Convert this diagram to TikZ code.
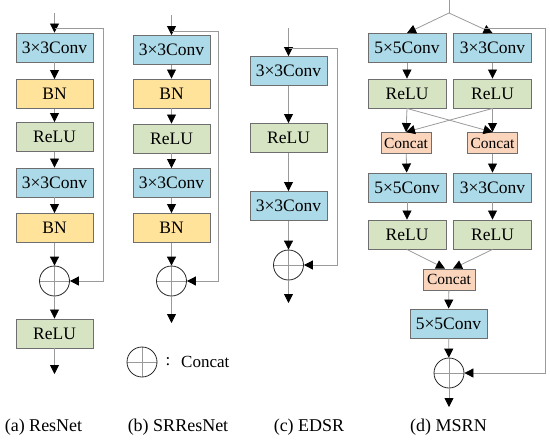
\documentclass[tikz,border=0pt]{standalone}
\usepackage{fontspec}
\setmainfont{Liberation Serif}
\usetikzlibrary{arrows.meta}
\definecolor{convc}{HTML}{ADDAE8}
\definecolor{bnc}{HTML}{FFE39B}
\definecolor{reluc}{HTML}{D7E4C3}
\definecolor{catc}{HTML}{FAD4BB}
\definecolor{edgec}{HTML}{6E6E6E}
\definecolor{linec}{HTML}{9A9A9A}
\tikzset{
  blk/.style={draw=edgec, line width=0.9pt, minimum width=77pt, minimum height=29pt, inner sep=0pt, font=\fontsize{17.5}{18}\selectfont},
  conv/.style={blk, fill=convc},
  bn/.style={blk, fill=bnc},
  relu/.style={blk, fill=reluc},
  cat/.style={draw=edgec, line width=0.9pt, fill=catc, minimum width=50pt, minimum height=21pt, inner sep=0pt, font=\fontsize{15.5}{16}\selectfont},
  sumc/.style={circle, draw=black!85, line width=0.8pt, minimum size=30pt, inner sep=0pt,
    path picture={\draw[linec,line width=0.7pt] (path picture bounding box.north) -- (path picture bounding box.south) (path picture bounding box.west) -- (path picture bounding box.east);}},
  arr/.style={draw=linec, line width=0.8pt, -{Triangle[width=9pt,length=9pt,color=black,fill=black]}},
  ln/.style={draw=linec, line width=0.8pt},
  captxt/.style={font=\fontsize{18}{18}\selectfont, inner sep=0pt}
}
\begin{document}
\begin{tikzpicture}[x=1pt,y=-1pt]
\useasboundingbox (0,0) rectangle (550,440);
% (a) ResNet
\node[conv] (a1) at (54.5,47.5) {3×3Conv};
\node[bn]   (a2) at (54.5,94) {BN};
\node[relu] (a3) at (54.5,137) {ReLU};
\node[conv] (a4) at (54.5,182.5) {3×3Conv};
\node[bn]   (a5) at (54.5,228) {BN};
\node[sumc] (as) at (54.5,281) {};
\node[relu] (a6) at (54.5,333.5) {ReLU};
\coordinate (ain) at (54.5,13);
\coordinate (askip) at (54.5,28);
\coordinate (acorner) at (103,28);
\coordinate (aout) at (54.5,374);
\draw[arr] (ain) -- (a1);
\draw[arr] (a1) -- (a2);
\draw[arr] (a2) -- (a3);
\draw[arr] (a3) -- (a4);
\draw[arr] (a4) -- (a5);
\draw[arr] (a5) -- (as);
\draw[arr] (as) -- (a6);
\draw[arr] (a6) -- (aout);
\draw[arr] (askip) -- (acorner) |- (as);
% (b) SRResNet
\node[conv] (b1) at (171.5,50) {3×3Conv};
\node[bn]   (b2) at (171.5,93.5) {BN};
\node[relu] (b3) at (171.5,138.5) {ReLU};
\node[conv] (b4) at (171.5,183) {3×3Conv};
\node[bn]   (b5) at (171.5,228) {BN};
\node[sumc] (bs) at (171.5,281) {};
\coordinate (bin) at (171.5,15);
\coordinate (bskip) at (171.5,31);
\coordinate (bcorner) at (218,31);
\coordinate (bout) at (171.5,323);
\draw[arr] (bin) -- (b1);
\draw[arr] (b1) -- (b2);
\draw[arr] (b2) -- (b3);
\draw[arr] (b3) -- (b4);
\draw[arr] (b4) -- (b5);
\draw[arr] (b5) -- (bs);
\draw[arr] (bs) -- (bout);
\draw[arr] (bskip) -- (bcorner) |- (bs);
% legend
\node[sumc] (leg) at (142,362) {};
\node[inner sep=0pt, font=\fontsize{17}{17}\selectfont] (legc) at (168,362) {:};
\node[inner sep=0pt, anchor=west, font=\fontsize{17}{17}\selectfont] (legt) at (181,362) {Concat};
% (c) EDSR
\node[conv] (c1) at (288.5,71) {3×3Conv};
\node[relu] (c2) at (288.5,138) {ReLU};
\node[conv] (c3) at (288.5,206) {3×3Conv};
\node[sumc] (cs) at (288.5,265) {};
\coordinate (cin) at (288.5,28);
\coordinate (cskip) at (288.5,48);
\coordinate (ccorner) at (337,48);
\coordinate (cout) at (288.5,303);
\draw[arr] (cin) -- (c1);
\draw[arr] (c1) -- (c2);
\draw[arr] (c2) -- (c3);
\draw[arr] (c3) -- (cs);
\draw[arr] (cs) -- (cout);
\draw[arr] (cskip) -- (ccorner) |- (cs);
% (d) MSRN
\node[conv, minimum width=78pt] (d1) at (407,48) {5×5Conv};
\node[conv, minimum width=78pt] (d2) at (492.5,48) {3×3Conv};
\node[relu, minimum width=78pt] (d3) at (407,93.5) {ReLU};
\node[relu, minimum width=78pt] (d4) at (492.5,93.5) {ReLU};
\node[cat] (d5) at (406,143) {Concat};
\node[cat] (d6) at (492.5,143) {Concat};
\node[conv, minimum width=78pt] (d7) at (407,187.5) {5×5Conv};
\node[conv, minimum width=78pt] (d8) at (492.5,187.5) {3×3Conv};
\node[relu, minimum width=78pt] (d9) at (407,234.5) {ReLU};
\node[relu, minimum width=78pt] (d10) at (492.5,234.5) {ReLU};
\node[cat, minimum width=52pt] (d11) at (449,279.5) {Concat};
\node[conv] (d12) at (448.5,323.5) {5×5Conv};
\node[sumc] (ds) at (449,373) {};
\coordinate (dtop) at (449,0);
\coordinate (dsplit) at (449,13);
\coordinate (dskip) at (485,28);
\coordinate (dcorner) at (545,28);
\coordinate (dout) at (449,407);
\draw[ln] (dtop) -- (dsplit);
\draw[arr] (dsplit) -- (d1.north);
\draw[arr] (dsplit) -- (d2.north);
\draw[arr] (d1) -- (d3);
\draw[arr] (d2) -- (d4);
\draw[arr] (d3.south) -- (d5.north);
\draw[arr] (d3.south) -- (d6.north);
\draw[arr] (d4.south) -- (d6.north);
\draw[arr] (d4.south) -- (d5.north);
\draw[arr] (d5) -- (d7);
\draw[arr] (d6) -- (d8);
\draw[arr] (d7) -- (d9);
\draw[arr] (d8) -- (d10);
\draw[arr] (d9.south) -- ([xshift=-4pt]d11.north);
\draw[arr] (d10.south) -- ([xshift=4pt]d11.north);
\draw[arr] (d11) -- (d12);
\draw[arr] (d12) -- (ds);
\draw[arr] (ds) -- (dout);
\draw[arr] (dskip) -- (dcorner) |- (ds);
% captions
\node[captxt] (capa) at (43.5,427) {(a) ResNet};
\node[captxt] (capb) at (178,427) {(b) SRResNet};
\node[captxt] (capc) at (309,427) {(c) EDSR};
\node[captxt] (capd) at (448.5,427) {(d) MSRN};
\end{tikzpicture}
\end{document}
